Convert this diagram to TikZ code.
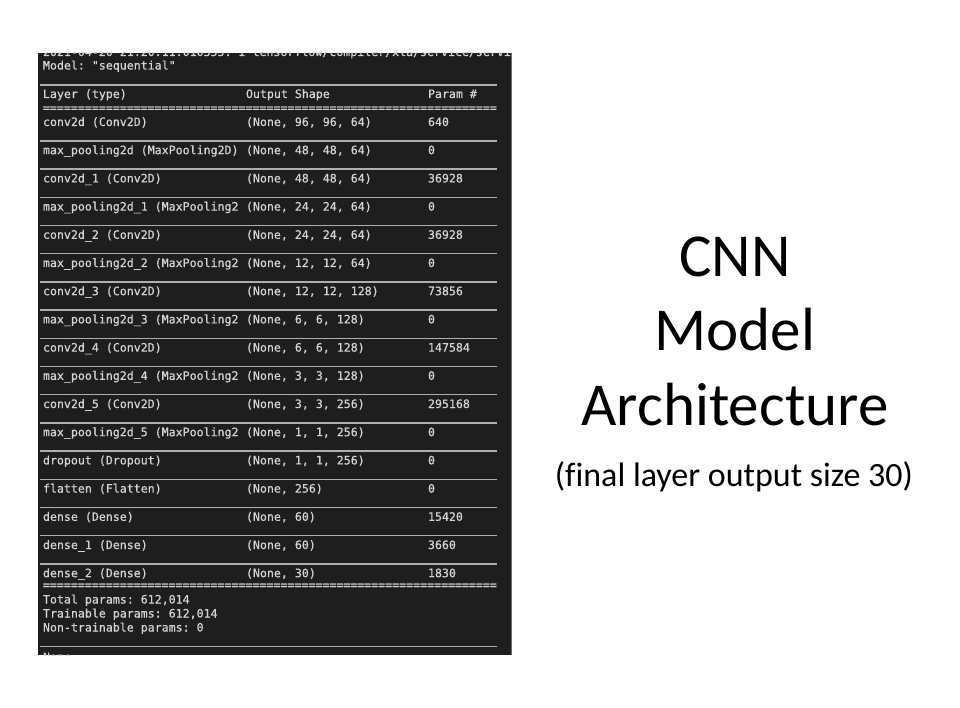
\documentclass[tikz,border=0pt]{standalone}
\usepackage{fontspec}
\setmainfont{Carlito}[Ligatures=NoCommon]
\setmonofont{DejaVu Sans Mono}[FakeBold=0.6]
\definecolor{termbg}{RGB}{30,30,30}
\definecolor{termfg}{RGB}{212,212,212}
\definecolor{termrule}{RGB}{175,175,175}
\newcommand\myeqfive{=====}
\newcommand\myeqrow{\myeqfive\myeqfive\myeqfive\myeqfive\myeqfive\myeqfive\myeqfive\myeqfive\myeqfive\myeqfive\myeqfive\myeqfive\myeqfive}
\begin{document}
\begin{tikzpicture}[x=1pt,y=-1pt,
  term/.style={anchor=base west, inner sep=0pt, outer sep=0pt, text=termfg, font=\ttfamily\fontsize{11.6}{14}\selectfont},
  rule/.style={draw=termrule, line width=1.3pt},
  titletext/.style={anchor=base, inner sep=0pt, text=black, font=\fontsize{61}{72}\selectfont},
  subtext/.style={anchor=base, inner sep=0pt, text=black, font=\fontsize{34}{40}\selectfont}]
\useasboundingbox[fill=white] (0,0) rectangle (960,708);
\fill[termbg] (38,53) rectangle (512,655);
\draw[termrule!55!termbg, line width=1pt] (511,53) -- (511,655);
\begin{scope}
\clip (38,53) rectangle (512,655);
\node[term] (log) at (43,56) {2021-04-20 21:20:11.010355: I tensorflow/compiler/xla/service/servi};
\node[term] (none) at (43,661) {None};
\end{scope}
\node[term] (model) at (43,69.5) {Model: "sequential"};
\draw[rule] (40,85) -- (497,85);
\node[term] (h1) at (43,98) {Layer (type)};
\node[term] (h2) at (246,98) {Output Shape};
\node[term] (h3) at (428,98) {Param \#};
\node[term] (eqtop) at (43,111.8) {\myeqrow};
\foreach \a/\b/\c [count=\i from 0] in {
  {conv2d (Conv2D)}/{(None, 96, 96, 64)}/{640},
  {max\_pooling2d (MaxPooling2D)}/{(None, 48, 48, 64)}/{0},
  {conv2d\_1 (Conv2D)}/{(None, 48, 48, 64)}/{36928},
  {max\_pooling2d\_1 (MaxPooling2}/{(None, 24, 24, 64)}/{0},
  {conv2d\_2 (Conv2D)}/{(None, 24, 24, 64)}/{36928},
  {max\_pooling2d\_2 (MaxPooling2}/{(None, 12, 12, 64)}/{0},
  {conv2d\_3 (Conv2D)}/{(None, 12, 12, 128)}/{73856},
  {max\_pooling2d\_3 (MaxPooling2}/{(None, 6, 6, 128)}/{0},
  {conv2d\_4 (Conv2D)}/{(None, 6, 6, 128)}/{147584},
  {max\_pooling2d\_4 (MaxPooling2}/{(None, 3, 3, 128)}/{0},
  {conv2d\_5 (Conv2D)}/{(None, 3, 3, 256)}/{295168},
  {max\_pooling2d\_5 (MaxPooling2}/{(None, 1, 1, 256)}/{0},
  {dropout (Dropout)}/{(None, 1, 1, 256)}/{0},
  {flatten (Flatten)}/{(None, 256)}/{0},
  {dense (Dense)}/{(None, 60)}/{15420},
  {dense\_1 (Dense)}/{(None, 60)}/{3660},
  {dense\_2 (Dense)}/{(None, 30)}/{1830}} {
  \pgfmathsetmacro\yy{126+28.2*\i}
  \node[term] (layer\i) at (43,\yy) {\a};
  \node[term] (shape\i) at (246,\yy) {\b};
  \node[term] (param\i) at (428,\yy) {\c};
  \ifnum\i>0 \draw[rule] (40,\yy-13.3) -- (497,\yy-13.3); \fi
}
\node[term] (eqbot) at (43,589) {\myeqrow};
\node[term] (total) at (43,603.5) {Total params: 612,014};
\node[term] (train) at (43,617.5) {Trainable params: 612,014};
\node[term] (nontrain) at (43,631.5) {Non-trainable params: 0};
\draw[rule] (40,646.7) -- (497,646.7);
\node[titletext] (cnn) at (735,277) {CNN};
\node[titletext] (modelword) at (735,350) {Model};
\node[titletext] (arch) at (735,425) {Architecture};
\node[subtext] (sub) at (734,486.7) {(final layer output size 30)};
\end{tikzpicture}
\end{document}
